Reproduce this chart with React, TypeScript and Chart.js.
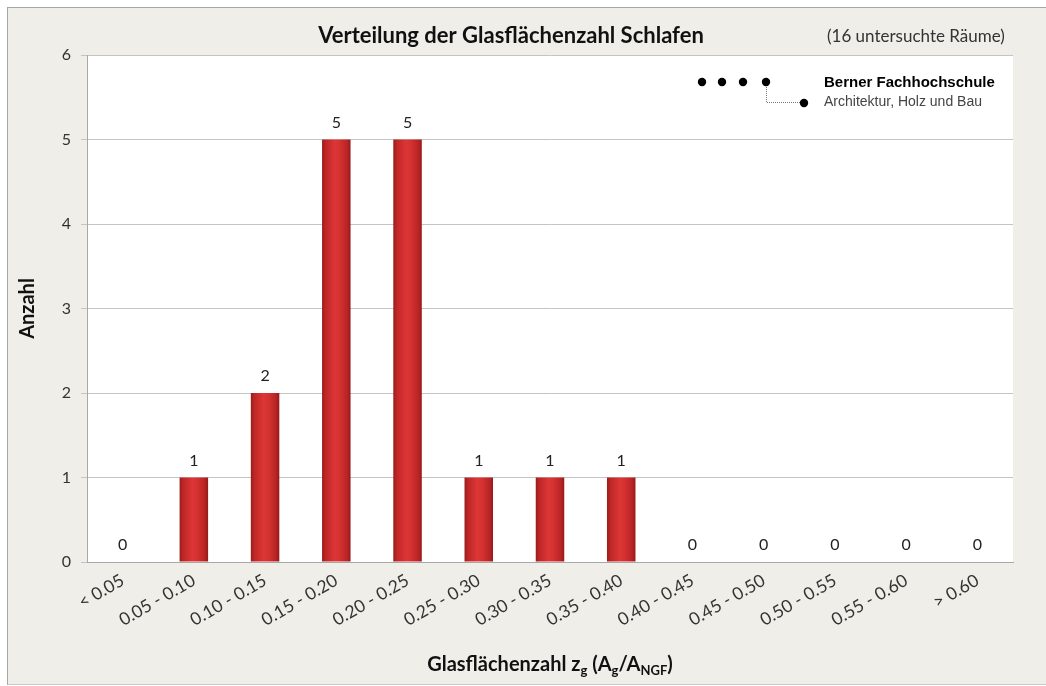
import React, { useEffect, useRef } from "react";
import { Chart, registerables } from "chart.js";

Chart.register(...registerables);

const CATEGORIES = [
  "< 0.05", "0.05 - 0.10", "0.10 - 0.15", "0.15 - 0.20", "0.20 - 0.25",
  "0.25 - 0.30", "0.30 - 0.35", "0.35 - 0.40", "0.40 - 0.45", "0.45 - 0.50",
  "0.50 - 0.55", "0.55 - 0.60", "> 0.60",
];
const COUNTS = [0, 1, 2, 5, 5, 1, 1, 1, 0, 0, 0, 0, 0];
const Y_TICKS = [0, 1, 2, 3, 4, 5, 6];

const TITLE = "Verteilung der Glasflächenzahl Schlafen";
const SUBTITLE = "(16 untersuchte Räume)";
const Y_TITLE = "Anzahl";
const LOGO_1 = "Berner Fachhochschule";
const LOGO_2 = "Architektur, Holz und Bau";

const FONT = "Lato, 'Open Sans', sans-serif";
const BAR_FRACTION = 0.4;

const decorPlugin = {
  id: "decor",
  beforeDraw(chart: any) {
    const { ctx, chartArea } = chart;
    ctx.save();
    ctx.fillStyle = "#ffffff";
    ctx.fillRect(chartArea.left, chartArea.top, chartArea.right - chartArea.left, chartArea.bottom - chartArea.top);
    ctx.restore();
  },
  afterDraw(chart: any) {
    const { ctx, chartArea } = chart;
    ctx.save();
    // Title
    ctx.fillStyle = "#111";
    ctx.font = `bold 22px ${FONT}`;
    ctx.textAlign = "center";
    ctx.textBaseline = "alphabetic";
    ctx.fillText(TITLE, 503, 35);
    ctx.font = `17px ${FONT}`;
    ctx.fillStyle = "#333";
    ctx.textAlign = "left";
    ctx.fillText(SUBTITLE, 819, 34);

    // Value labels
    const meta = chart.getDatasetMeta(0);
    ctx.font = `16px ${FONT}`;
    ctx.fillStyle = "#222";
    ctx.textAlign = "center";
    ctx.textBaseline = "middle";
    meta.data.forEach((el: any, i: number) => {
      ctx.fillText(String(COUNTS[i]), el.x, el.y - 17);
    });

    // X axis title with subscripts
    const cx = (chartArea.left + chartArea.right) / 2;
    const base = 663;
    const parts: [string, boolean][] = [
      ["Glasflächenzahl z", false], ["g", true], [" (A", false], ["g", true],
      ["/A", false], ["NGF", true], [")", false],
    ];
    const bigFont = `bold 20px ${FONT}`;
    const smallFont = `bold 13px ${FONT}`;
    let total = 0;
    parts.forEach(([t, sub]) => {
      ctx.font = sub ? smallFont : bigFont;
      total += ctx.measureText(t).width;
    });
    let x = cx - total / 2;
    ctx.textAlign = "left";
    ctx.textBaseline = "alphabetic";
    ctx.fillStyle = "#111";
    parts.forEach(([t, sub]) => {
      ctx.font = sub ? smallFont : bigFont;
      ctx.fillText(t, x, sub ? base + 4 : base);
      x += ctx.measureText(t).width;
    });

    // Logo
    ctx.fillStyle = "#000";
    [694, 714, 735, 758].forEach((dx) => {
      ctx.beginPath();
      ctx.arc(dx, 74, 4.2, 0, Math.PI * 2);
      ctx.fill();
    });
    ctx.strokeStyle = "#777";
    ctx.lineWidth = 1;
    ctx.setLineDash([1, 1]);
    ctx.beginPath();
    ctx.moveTo(758.5, 79);
    ctx.lineTo(758.5, 94.5);
    ctx.lineTo(792, 94.5);
    ctx.stroke();
    ctx.setLineDash([]);
    ctx.beginPath();
    ctx.arc(796, 95, 4.2, 0, Math.PI * 2);
    ctx.fill();
    ctx.font = "bold 15px 'Liberation Sans', Arial, sans-serif";
    ctx.fillStyle = "#000";
    ctx.fillText(LOGO_1, 816, 79);
    ctx.font = "14px 'Liberation Sans', Arial, sans-serif";
    ctx.fillStyle = "#444";
    ctx.fillText(LOGO_2, 816, 98);
    ctx.restore();
  },
};

function barGradient(c: any) {
  const chart = c.chart;
  if (c.type !== "data" || !chart.chartArea) return "#d02a2a";
  const xs = chart.scales.x;
  const cx = xs.getPixelForValue(c.dataIndex);
  const hw = (xs.width / CATEGORIES.length) * BAR_FRACTION / 2;
  const g = chart.ctx.createLinearGradient(cx - hw, 0, cx + hw, 0);
  g.addColorStop(0, "#981c1c");
  g.addColorStop(0.12, "#be2626");
  g.addColorStop(0.45, "#dc3636");
  g.addColorStop(0.6, "#d63232");
  g.addColorStop(0.88, "#ba2424");
  g.addColorStop(1, "#941a1a");
  return g;
}

export default function App() {
  const ref = useRef<HTMLCanvasElement | null>(null);
  useEffect(() => {
    if (!ref.current) return;
    const chart = new Chart(ref.current, {
      type: "bar",
      data: {
        labels: CATEGORIES,
        datasets: [
          {
            data: COUNTS,
            backgroundColor: barGradient as any,
            borderWidth: 0,
            categoryPercentage: 1,
            barPercentage: BAR_FRACTION,
          },
        ],
      },
      options: {
        responsive: false,
        animation: false,
        devicePixelRatio: 1,
        layout: { padding: { left: 0, top: 47, right: 33, bottom: 0 } },
        plugins: { legend: { display: false }, tooltip: { enabled: false }, title: { display: false } },
        scales: {
          x: {
            grid: { display: false },
            border: { display: true, color: "#a8a8a8", width: 1 },
            ticks: {
              color: "#333",
              font: { family: FONT, size: 17.5 },
              minRotation: 30,
              maxRotation: 30,
              autoSkip: false,
              padding: 0,
            },
            afterFit: (s: any) => { s.height = 122; },
          },
          y: {
            min: 0,
            max: 6,
            afterBuildTicks: (s: any) => { s.ticks = Y_TICKS.map((v) => ({ value: v })); },
            grid: { color: "#c4c4c4", lineWidth: 1, tickLength: 6 },
            border: { display: true, color: "#a8a8a8", width: 1 },
            ticks: { color: "#333", font: { family: FONT, size: 16 }, padding: 10 },
            title: {
              display: true,
              text: Y_TITLE,
              color: "#111",
              font: { family: FONT, size: 20, weight: "bold" },
              padding: { top: 8, bottom: 0 },
            },
            afterFit: (s: any) => { s.width = 79; },
          },
        },
      },
      plugins: [decorPlugin],
    });
    return () => chart.destroy();
  }, []);

  return (
    <div
      style={{
        position: "fixed",
        left: 7,
        top: 7,
        width: 1039,
        height: 676,
        background: "#efeee8",
        borderTop: "1px solid #a6a6a6",
        borderLeft: "1px solid #a6a6a6",
        borderBottom: "1px solid #c8c8c8",
        overflow: "hidden",
      }}
    >
      <canvas ref={ref} width={1038} height={676} style={{ display: "block" }} />
    </div>
  );
}
